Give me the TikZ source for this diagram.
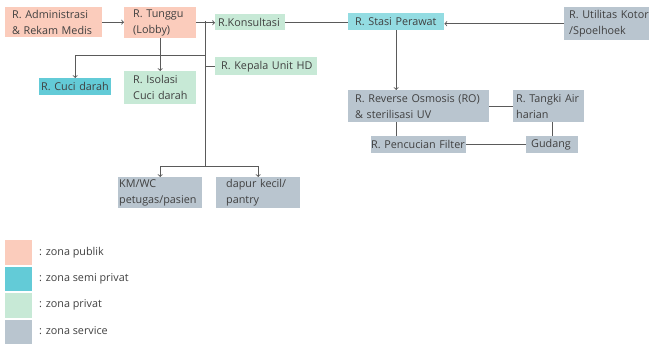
\documentclass[tikz,border=0pt]{standalone}
\usepackage{fontspec}
\setmainfont{Open Sans}
\usetikzlibrary{positioning}

\definecolor{publik}{HTML}{FBCCBC}
\definecolor{semi}{HTML}{63CBD7}
\definecolor{semilight}{HTML}{93DCE2}
\definecolor{privat}{HTML}{C7E9D6}
\definecolor{service}{HTML}{B9C5CF}
\definecolor{txt}{HTML}{404040}
\definecolor{garis}{HTML}{5A5A5A}

\tikzset{
  room/.style={anchor=north west, inner xsep=5pt, inner ysep=0pt, align=left,
    text=txt, font=\fontsize{10.8}{16}\selectfont},
  publik/.style={room, fill=publik},
  semi/.style={room, fill=semi},
  semilight/.style={room, fill=semilight},
  privat/.style={room, fill=privat},
  service/.style={room, fill=service},
  swatch/.style={anchor=north west, minimum width=27pt, minimum height=24.5pt, inner sep=0pt},
  legtext/.style={anchor=west, inner xsep=0pt, text=txt, font=\fontsize{10.8}{12}\selectfont},
  line/.style={draw=garis, line width=0.9pt},
  arr/.style={line, ->}
}

\begin{document}
\begin{tikzpicture}[x=1pt,y=-1pt]
  \useasboundingbox (0,0) rectangle (649,345);

  % rooms
  \node[publik, minimum width=97pt, minimum height=30pt, text width=83pt, inner xsep=7pt] (admin) at (5,7) {\mbox{R. Administrasi}\\\mbox{\& Rekam Medis}};
  \node[publik, minimum width=72pt, minimum height=31pt, text width=54pt, inner xsep=9pt] (tunggu) at (124,7) {R. Tunggu\\(Lobby)};
  \node[privat, minimum width=70pt, minimum height=16pt, text width=64pt, inner xsep=3pt] (konsul) at (215,14) {R.Konsultasi};
  \node[privat, minimum width=102pt, minimum height=18pt, text width=90pt, inner xsep=6pt] (kepala) at (215,57) {\mbox{R. Kepala Unit HD}};
  \node[semi, minimum width=72pt, minimum height=17pt, text width=68pt, inner xsep=2pt] (cuci) at (39,78) {\mbox{R. Cuci darah}};
  \node[privat, minimum width=72pt, minimum height=33pt, text width=54pt, inner xsep=9pt] (isolasi) at (124,71) {R. Isolasi\\\mbox{Cuci darah}};
  \node[service, minimum width=84pt, minimum height=31pt, text width=82pt, inner xsep=1pt] (kmwc) at (118,177) {KM/WC\\petugas/pasien};
  \node[service, minimum width=84pt, minimum height=31pt, text width=64pt, inner xsep=10pt] (dapur) at (216,177) {\mbox{dapur kecil/}\\pantry};

  \node[semilight, minimum width=96pt, minimum height=17pt, text width=82pt, inner xsep=7pt] (stasi) at (348,13) {\mbox{R. Stasi Perawat}};
  \node[service, minimum width=92pt, minimum height=33pt, text width=82pt, inner xsep=5pt] (util) at (564,7) {\mbox{R. Utilitas Kotor}\\/Spoelhoek};
  \node[service, minimum width=141pt, minimum height=32pt, text width=127pt, inner xsep=7pt] (ro) at (348,90) {\mbox{R. Reverse Osmosis (RO)}\\\mbox{\& sterilisasi UV}};
  \node[service, minimum width=71pt, minimum height=32pt, text width=65pt, inner xsep=3pt] (tangki) at (513,90) {\mbox{R. Tangki Air}\\harian};
  \node[service, minimum width=95pt, minimum height=17pt, text width=95pt, inner xsep=0pt] (pencuci) at (371,136) {\mbox{R. Pencucian Filter}};
  \node[service, minimum width=52pt, minimum height=17pt, text width=42pt, inner xsep=5pt] (gudang) at (526,136) {Gudang};

  % trunk
  \coordinate (trunk) at (205,21);
  \coordinate (split) at (205,55);
  \coordinate (bot) at (205,166);

  % connectors
  \draw[arr] (admin.east) -- (admin.east -| tunggu.west);
  \draw[arr] (tunggu.east) -- (tunggu.east -| konsul.west);
  \draw[line] (trunk) -- (bot);
  \draw[line] (kepala.west -| trunk) -- (kepala.west);
  \draw[arr] (split) -| (cuci.north);
  \draw[arr] (tunggu.south) -- (isolasi.north);
  \draw[arr] (bot) -| (kmwc.north);
  \draw[arr] (bot) -| (dapur.north);
  \draw[line] (konsul.east) -- (konsul.east -| stasi.west);
  \draw[arr] (util.west) -- (util.west -| stasi.east);
  \draw[arr] (stasi.south) -- (stasi.south |- ro.north);
  \draw[line] (ro.east) -- (tangki.west);
  \draw[line] (stasi.south |- ro.south) -- (stasi.south |- pencuci.north);
  \draw[line] (gudang.north |- tangki.south) -- (gudang.north);
  \draw[line] (pencuci.east) -- (gudang.west);

  % legend
  \node[swatch, fill=publik] (lg1) at (5,240) {};
  \node[swatch, fill=semi] (lg2) at (5,266.5) {};
  \node[swatch, fill=privat] (lg3) at (5,293) {};
  \node[swatch, fill=service] (lg4) at (5,319.5) {};
  \node[legtext] (lt1) at (39,253) {: zona publik};
  \node[legtext] (lt2) at (39,279) {: zona semi privat};
  \node[legtext] (lt3) at (39,305) {: zona privat};
  \node[legtext] (lt4) at (39,331) {: zona service};
\end{tikzpicture}
\end{document}
